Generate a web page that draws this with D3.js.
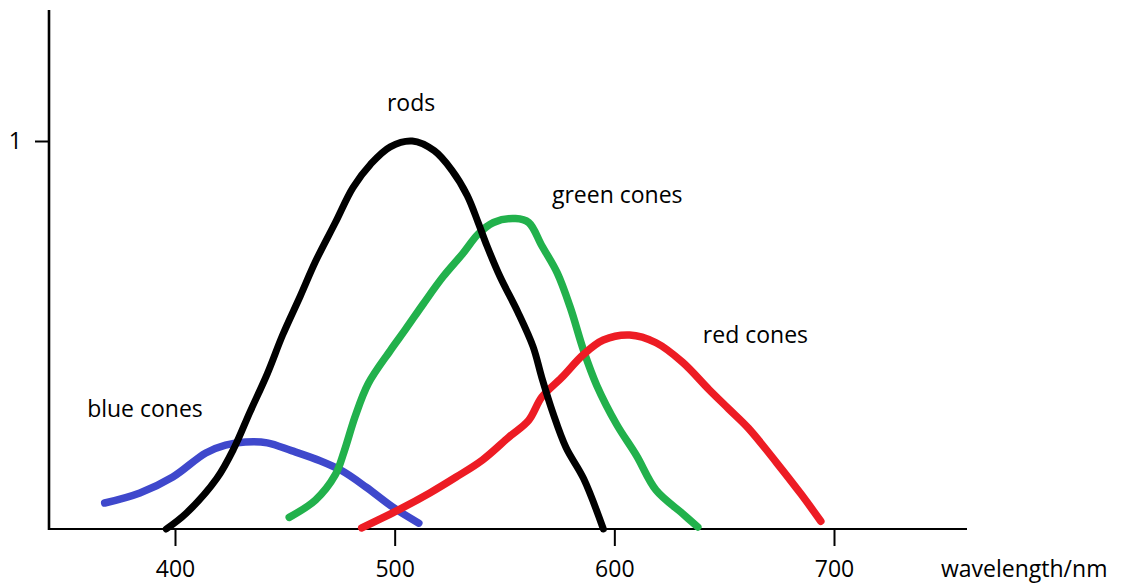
<!DOCTYPE html>
<html>
<head>
<meta charset="utf-8">
<script src="https://cdn.jsdelivr.net/npm/d3@7"></script>
<style>
  html, body { margin: 0; padding: 0; background: #ffffff; }
  svg { display: block; }
  text { font-family: "Open Sans", "Noto Sans", sans-serif; fill: #000; }
</style>
</head>
<body>
<svg id="chart" width="1121" height="586"></svg>
<script>
// ---- data (wavelength in nm, relative sensitivity) ----
const xTicks = [400, 500, 600, 700];
const yTicks = [1];
const xLabel = "wavelength/nm";

const rodsWl   = [396,405,419,427,434,442,449,457,464,473,481,489,498,508,518,526,533,538,542,548,556,563,567,572,578,586,595];
const rodsVal  = [0.0,0.04,0.13,0.21,0.30,0.40,0.50,0.60,0.69,0.79,0.88,0.94,0.985,1.0,0.975,0.925,0.86,0.79,0.73,0.65,0.56,0.47,0.39,0.30,0.21,0.13,0.0];

const greenWl  = [452,464,473,477,482,488,498,505,513,522,531,538,545,555,561,567,574,580,586,592,601,610,619,631,638];
const greenVal = [0.03,0.075,0.14,0.20,0.29,0.375,0.46,0.515,0.58,0.65,0.71,0.76,0.79,0.80,0.79,0.73,0.66,0.57,0.46,0.37,0.27,0.19,0.10,0.04,0.005];

const redWl    = [485,502,516,528,540,552,561,567,576,586,595,607,619,631,643,652,661,674,685,694];
const redVal   = [0.003,0.05,0.093,0.134,0.178,0.237,0.28,0.34,0.39,0.45,0.487,0.50,0.48,0.43,0.36,0.31,0.26,0.17,0.09,0.02];

const blueWl   = [368,384,399,414,423,432,442,453,466,476,487,499,511];
const blueVal  = [0.067,0.093,0.134,0.196,0.216,0.224,0.222,0.202,0.176,0.150,0.108,0.057,0.015];

const seriesNames = ["rods", "green cones", "red cones", "blue cones"];
const seriesWl    = [rodsWl, greenWl, redWl, blueWl];
const seriesVal   = [rodsVal, greenVal, redVal, blueVal];

// label anchors in data space (wavelength, sensitivity)
const labelWl  = [496.5, 571.6, 640.3, 360];
const labelVal = [1.077, 0.840, 0.479, 0.289];

// ---- drawing ----
const colors = ["#000000", "#22b14c", "#ed1c24", "#3f48cc"];
const svg = d3.select("#chart");

const x = d3.scaleLinear().domain([400, 700]).range([175, 834]);
const y = d3.scaleLinear().domain([0, 1]).range([529, 141]);

const xLeft = x.invert(49), xRight = x.invert(967);
const yTop = y.invert(10);

// x axis
const gx = svg.append("g").attr("transform", `translate(0,${y(0)})`);
gx.append("line")
  .attr("x1", x(xLeft)).attr("x2", x(xRight))
  .attr("y1", 0).attr("y2", 0)
  .attr("stroke", "#000").attr("stroke-width", 2.2);
gx.call(d3.axisBottom(x).tickValues(xTicks).tickSize(17).tickPadding(15).tickFormat(d3.format("d")))
  .call(g => g.select(".domain").remove())
  .call(g => g.selectAll(".tick line").attr("stroke", "#000").attr("stroke-width", 2))
  .call(g => g.selectAll(".tick text").attr("font-size", 23).attr("font-family", "Open Sans, Noto Sans, sans-serif").attr("fill", "#000"));

// y axis
const gy = svg.append("g").attr("transform", `translate(${x(xLeft)},0)`);
gy.append("line")
  .attr("x1", 0).attr("x2", 0)
  .attr("y1", y(yTop)).attr("y2", y(0) + 1)
  .attr("stroke", "#000").attr("stroke-width", 2.6);
gy.call(d3.axisLeft(y).tickValues(yTicks).tickSize(14).tickPadding(13).tickFormat(d3.format("d")))
  .call(g => g.select(".domain").remove())
  .call(g => g.selectAll(".tick line").attr("stroke", "#000").attr("stroke-width", 2))
  .call(g => g.selectAll(".tick text").attr("font-size", 23).attr("font-family", "Open Sans, Noto Sans, sans-serif").attr("fill", "#000"));

// curves
const line = d3.line()
  .x(d => x(d[0]))
  .y(d => y(d[1]))
  .curve(d3.curveCatmullRom.alpha(0.5));

const drawOrder = [3, 1, 2, 0];
drawOrder.forEach(i => {
  const pts = seriesWl[i].map((w, k) => [w, seriesVal[i][k]]);
  svg.append("path")
    .datum(pts)
    .attr("d", line)
    .attr("fill", "none")
    .attr("stroke", colors[i])
    .attr("stroke-width", i === 0 ? 7 : 7.5)
    .attr("stroke-linecap", "round")
    .attr("stroke-linejoin", "round");
});

// labels
seriesNames.forEach((name, i) => {
  svg.append("text")
    .attr("x", x(labelWl[i]))
    .attr("y", y(labelVal[i]))
    .attr("font-size", 23)
    .text(name);
});

svg.append("text")
  .attr("x", x(748.7))
  .attr("y", y(-0.124))
  .attr("font-size", 23)
  .text(xLabel);
</script>
</body>
</html>
